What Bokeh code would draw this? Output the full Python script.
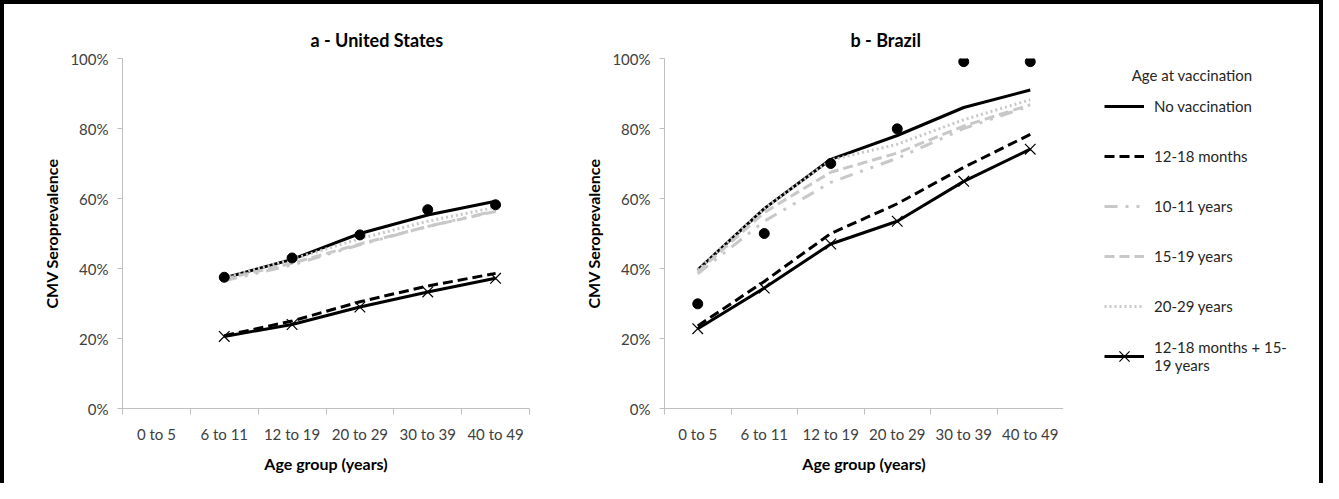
import math
from bokeh.plotting import figure
from bokeh.models import Range1d, FixedTicker, PrintfTickFormatter, Legend, LegendItem, Title, Label
from bokeh.layouts import row
from bokeh.embed import file_html
from bokeh.resources import INLINE

nan = float("nan")

# ---------------- data ----------------
age_groups = ["0 to 5", "6 to 11", "12 to 19", "20 to 29", "30 to 39", "40 to 49"]
y_ticks = [0, 20, 40, 60, 80, 100]

# United States (%)
us_observed = [nan, 37.5, 43.0, 49.6, 56.8, 58.2]
us_no_vacc = [nan, 37.3, 42.6, 50.0, 55.3, 59.2]
us_12_18m = [nan, 20.8, 25.0, 30.5, 35.0, 38.6]
us_10_11y = [nan, 36.5, 41.0, 46.8, 52.0, 56.5]
us_15_19y = [nan, 37.0, 41.5, 47.0, 52.0, 56.3]
us_20_29y = [nan, 37.3, 42.6, 48.5, 53.5, 57.5]
us_combo = [nan, 20.6, 24.0, 29.0, 33.3, 37.2]

# Brazil (%)
br_observed = [29.9, 50.0, 70.0, 79.9, 99.1, 99.1]
br_no_vacc = [39.6, 57.1, 71.2, 78.0, 86.0, 91.0]
br_12_18m = [23.6, 36.3, 50.0, 58.5, 68.9, 78.3]
br_10_11y = [38.5, 53.5, 64.6, 71.5, 80.0, 86.5]
br_15_19y = [39.0, 56.0, 67.5, 73.0, 80.7, 86.8]
br_20_29y = [39.6, 57.1, 71.0, 75.5, 82.5, 88.2]
br_combo = [22.8, 34.4, 47.0, 53.5, 64.9, 74.1]

series_names = ["No vaccination", "12-18 months", "10-11 years", "15-19 years",
                "20-29 years", "12-18 months + 15-\n19 years"]
legend_title = "Age at vaccination"

# ---------------- styles ----------------
FONT = "Lato"
AXIS_GRAY = "#bfbfbf"
LIGHT = "#c8c8c8"
styles = {
    "No vaccination": dict(color="black", dash="solid"),
    "12-18 months": dict(color="black", dash="10 5"),
    "10-11 years": dict(color=LIGHT, dash="13 8 3 8 3 8"),
    "15-19 years": dict(color=LIGHT, dash="10 5"),
    "20-29 years": dict(color=LIGHT, dash="2 3"),
    "12-18 months + 15-\n19 years": dict(color="black", dash="solid"),
}

x_pos = [i + 0.5 for i in range(len(age_groups))]
bounds = list(range(len(age_groups) + 1))

H = 479
MB_TOP = 54
MB_BOTTOM = 75


def make_panel(title, series_vals, observed, width, mb_left, mb_right, title_offset):
    p = figure(width=width, height=H, x_range=Range1d(0, len(age_groups)),
               y_range=Range1d(0, 100), toolbar_location=None, output_backend="svg",
               min_border_left=mb_left, min_border_right=mb_right,
               min_border_top=MB_TOP, min_border_bottom=MB_BOTTOM)
    p.title = Title(text=title, align="left", offset=title_offset, text_font=FONT,
                    text_font_size="18px", text_font_style="bold", text_color="black",
                    standoff=16)
    p.outline_line_color = None
    p.grid.visible = False
    p.background_fill_color = "white"
    p.border_fill_color = "white"

    xa = p.xaxis[0]
    xa.ticker = FixedTicker(ticks=x_pos, minor_ticks=bounds)
    xa.major_label_overrides = {x: lab for x, lab in zip(x_pos, age_groups)}
    xa.major_tick_line_color = None
    xa.minor_tick_line_color = AXIS_GRAY
    xa.minor_tick_out = 6
    xa.minor_tick_in = 0
    xa.axis_line_color = AXIS_GRAY
    xa.major_label_text_font = FONT
    xa.major_label_text_font_size = "15px"
    xa.major_label_text_color = "#404040"
    xa.major_label_standoff = 10
    xa.axis_label = "Age group (years)"
    xa.axis_label_text_font = FONT
    xa.axis_label_text_font_size = "16px"
    xa.axis_label_text_font_style = "bold"
    xa.axis_label_text_color = "black"
    xa.axis_label_standoff = 8

    ya = p.yaxis[0]
    ya.ticker = FixedTicker(ticks=y_ticks)
    ya.formatter = PrintfTickFormatter(format="%d%%")
    ya.major_tick_out = 5
    ya.major_tick_in = 0
    ya.minor_tick_line_color = None
    ya.major_tick_line_color = AXIS_GRAY
    ya.axis_line_color = AXIS_GRAY
    ya.major_label_text_font = FONT
    ya.major_label_text_font_size = "15px"
    ya.major_label_text_color = "#404040"
    ya.major_label_standoff = 9
    ya.axis_label = "CMV Seroprevalence"
    ya.axis_label_text_font = FONT
    ya.axis_label_text_font_size = "16px"
    ya.axis_label_text_font_style = "bold"
    ya.axis_label_text_color = "black"
    ya.axis_label_standoff = 6

    for name, vals in zip(series_names, series_vals):
        st = styles[name]
        p.line(x_pos, vals, line_color=st["color"], line_width=3, line_dash=st["dash"])
        if name.startswith("12-18 months +"):
            p.scatter(x_pos, vals, marker="x", size=15, line_color="black", line_width=1.2)
    p.scatter(x_pos, observed, marker="circle", size=10, fill_color="black", line_color="black")
    return p


p1 = make_panel("a - United States",
                [us_no_vacc, us_12_18m, us_10_11y, us_15_19y, us_20_29y, us_combo],
                us_observed, 568, 118, 43, 188)
p2 = make_panel("b - Brazil",
                [br_no_vacc, br_12_18m, br_10_11y, br_15_19y, br_20_29y, br_combo],
                br_observed, 491, 92, 0, 186)

# ---------------- legend panel ----------------
p3 = figure(width=256, height=H, x_range=Range1d(0, 1), y_range=Range1d(0, 1),
            toolbar_location=None, output_backend="svg",
            x_axis_location=None, y_axis_location=None,
            min_border_left=11, min_border_right=0,
            min_border_top=MB_TOP, min_border_bottom=MB_BOTTOM)
p3.grid.visible = False
p3.outline_line_color = None
p3.add_layout(Label(x=0.48, y=0.954, text=legend_title, text_align="center",
                    text_baseline="middle", text_font=FONT, text_font_size="15px",
                    text_color="#262626"))
items = []
for name in series_names:
    st = styles[name]
    r = p3.line([nan], [nan], line_color=st["color"], line_width=3, line_dash=st["dash"])
    rs = [r]
    if name.startswith("12-18 months +"):
        rs.append(p3.scatter([nan], [nan], marker="x", size=15, line_color="black",
                             line_width=1.2))
    items.append(LegendItem(label=name, renderers=rs))
legend = Legend(items=items, location="top_left", margin=30, padding=0, spacing=14,
                glyph_width=40, glyph_height=36, label_height=36, label_standoff=10,
                border_line_color=None, background_fill_alpha=0,
                label_text_font=FONT, label_text_font_size="15px", label_text_color="#262626")
p3.add_layout(legend)

layout = row(p1, p2, p3, styles={"border-top": "4px solid black",
                                 "border-left": "4px solid black",
                                 "border-right": "4px solid black"})

open("out.html", "w").write(file_html(layout, INLINE))
